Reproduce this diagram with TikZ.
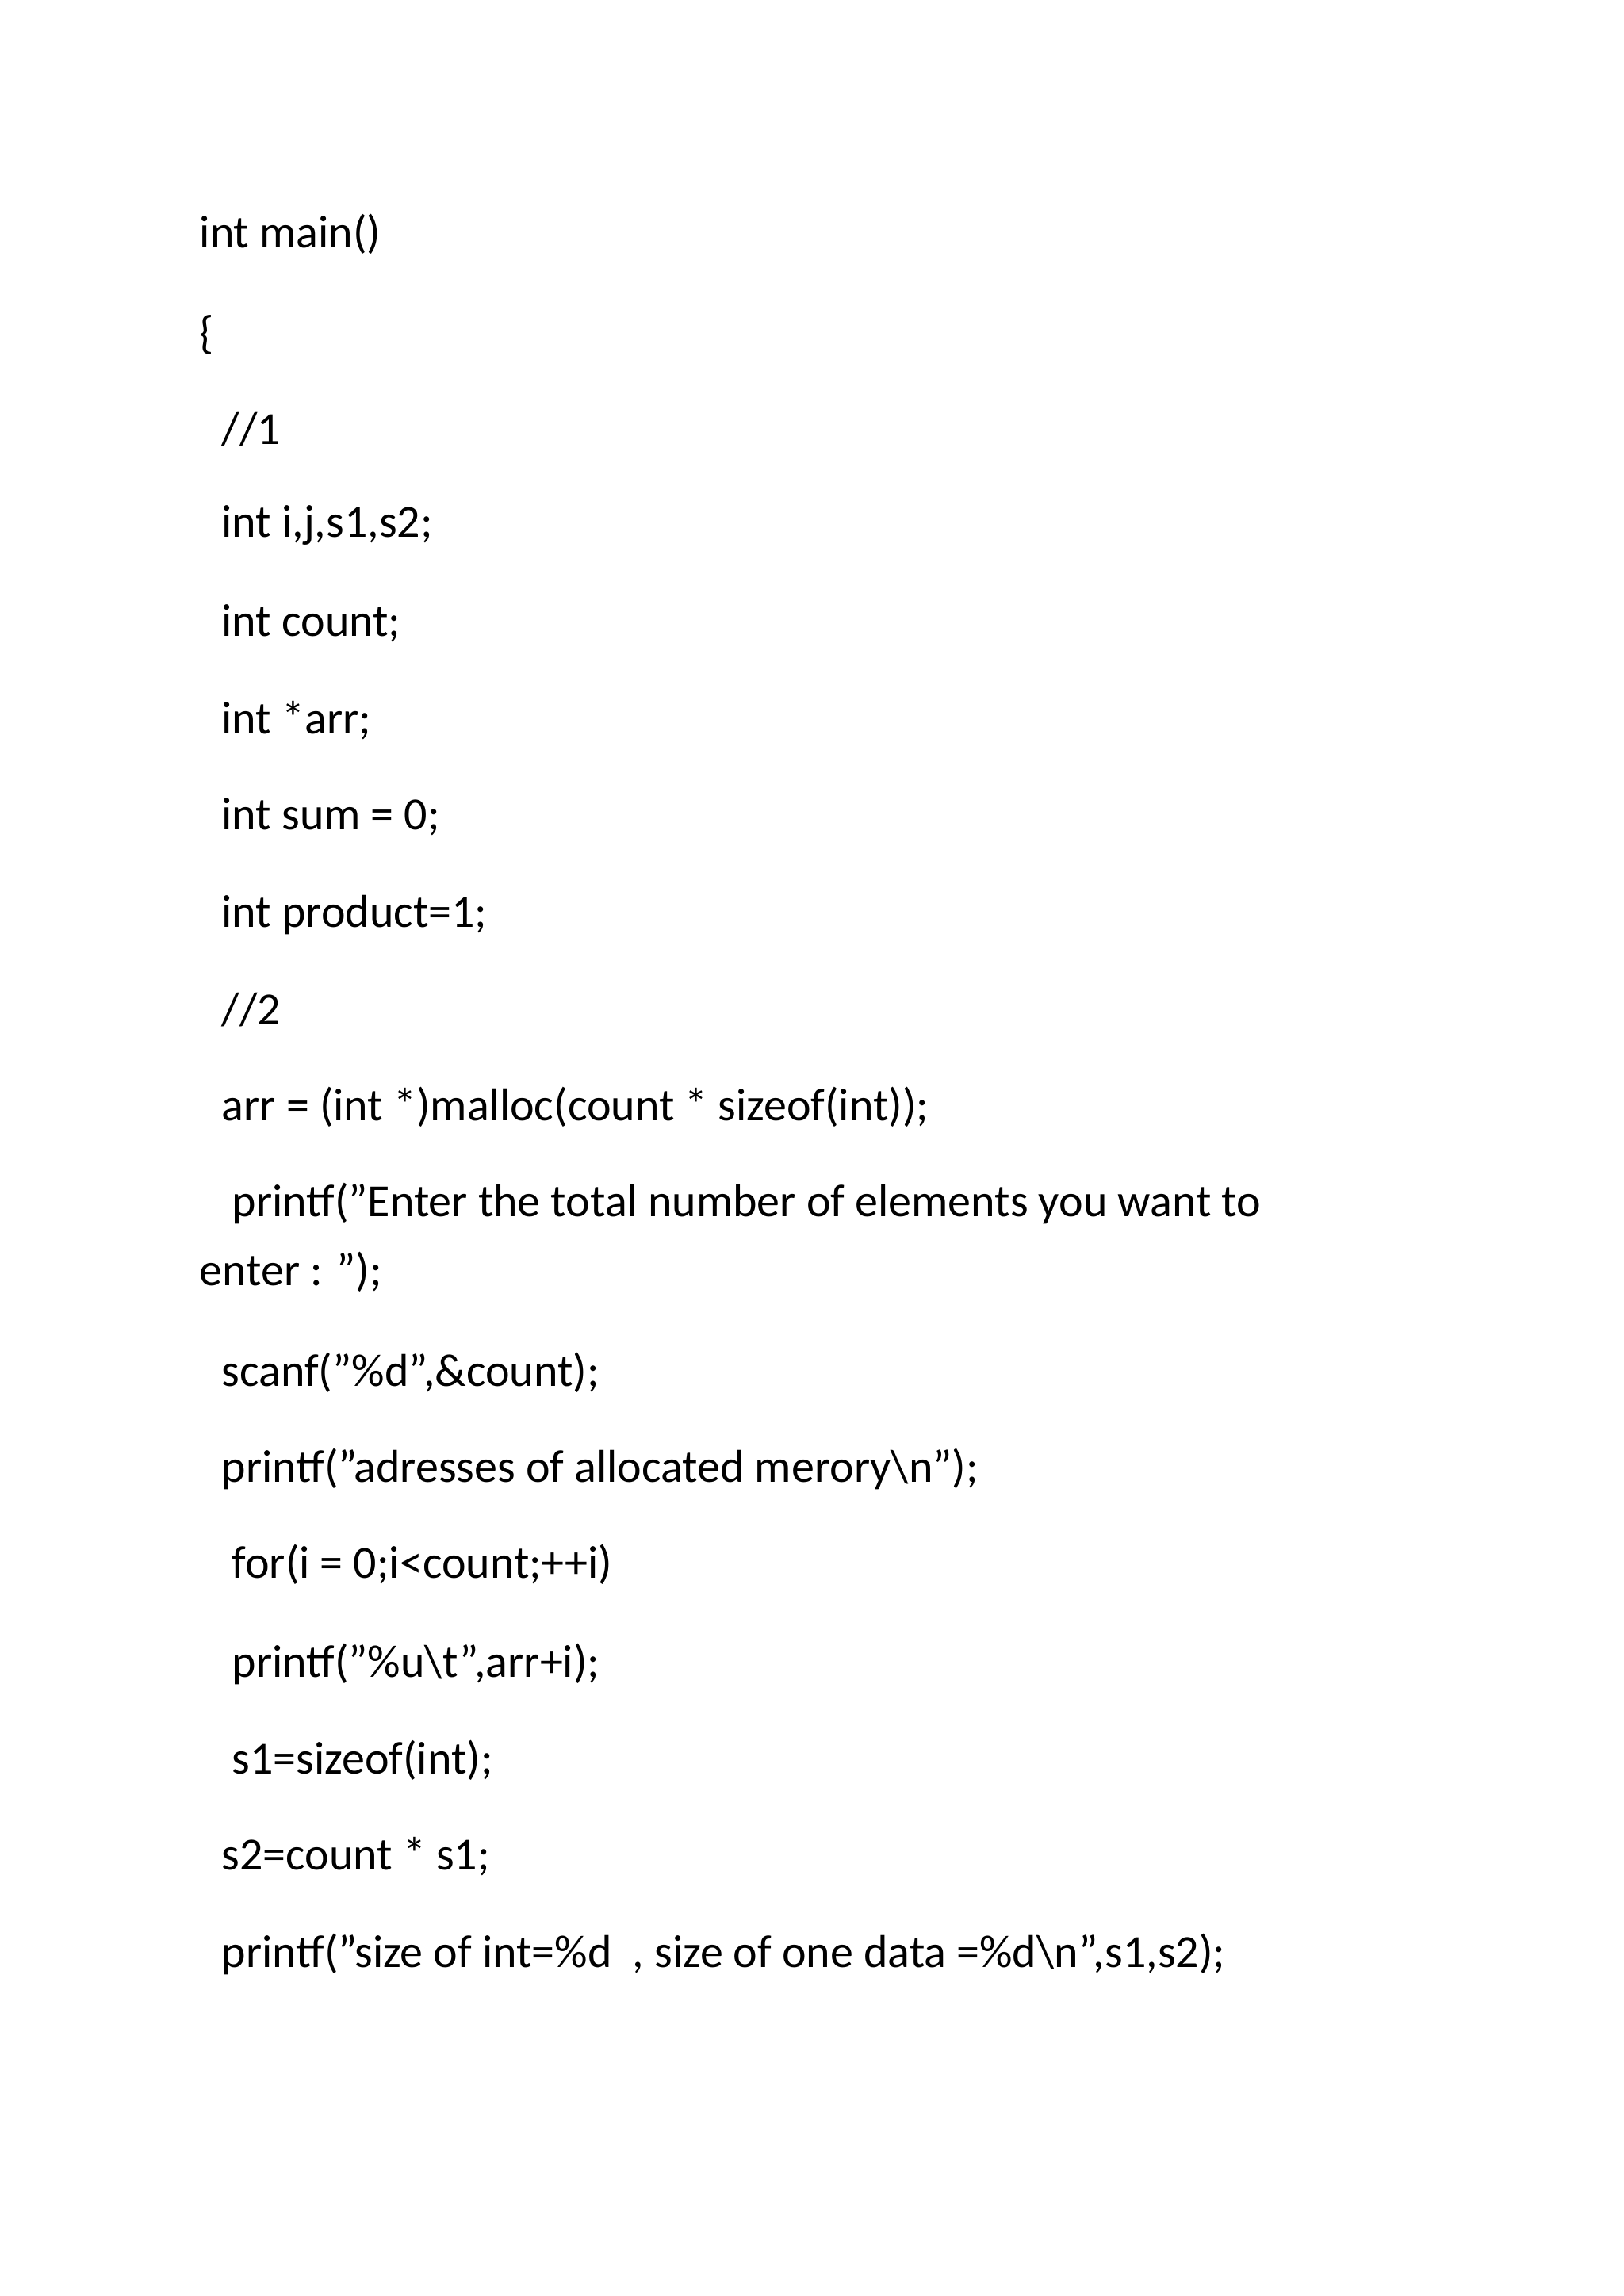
\documentclass[tikz,border=0pt]{standalone}
\usepackage{fontspec}
\setmainfont{Carlito}
\begin{document}
\begin{tikzpicture}[x=0.931pt,y=-0.931pt,
  code/.style={anchor=base west,inner sep=0pt,font=\fontsize{29}{34}\selectfont}]
\useasboundingbox[fill=white] (0,0) rectangle (1100,1555.5);
\node[code] (l1) at (135,168) {int main()};
\node[code] (l2) at (135,236) {\{};
\node[code] (l3) at (150,301) {//1};
\node[code] (l4) at (150,364) {int i,j,s1,s2;};
\node[code] (l5) at (150,431) {int count;};
\node[code] (l6) at (150,497) {int *arr;};
\node[code] (l7) at (150,562) {int sum = 0;};
\node[code] (l8) at (150,628) {int product=1;};
\node[code] (l9) at (150,694) {//2};
\node[code] (l10) at (150,759) {arr = (int *)malloc(count * sizeof(int));};
\node[code] (l11) at (157,824) {printf("Enter the total number of elements you want to};
\node[code] (l12) at (135,871) {enter : ");};
\node[code] (l13) at (150,939) {scanf("\%d",\&count);};
\node[code] (l14) at (150,1004) {printf("adresses of allocated merory\textbackslash n");};
\node[code] (l15) at (157,1069) {for(i = 0;i<count;++i)};
\node[code] (l16) at (157,1136) {printf("\%u\textbackslash t",arr+i);};
\node[code] (l17) at (157,1202) {s1=sizeof(int);};
\node[code] (l18) at (150,1267) {s2=count * s1;};
\node[code] (l19) at (150,1333) {printf("size of int=\%d~ , size of one data =\%d\textbackslash n",s1,s2);};
\end{tikzpicture}
\end{document}
